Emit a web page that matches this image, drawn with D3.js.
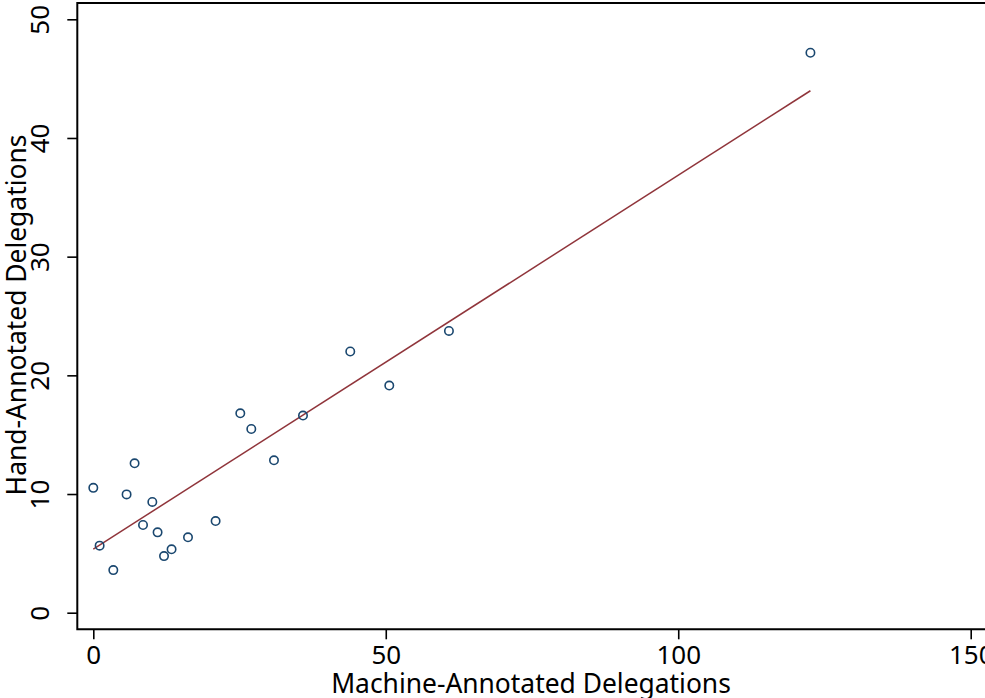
<!DOCTYPE html>
<html lang="en">
<head>
<meta charset="utf-8">
<title>Hand vs Machine Delegations</title>
<script src="https://cdn.jsdelivr.net/npm/d3@7"></script>
<style>
  html, body { margin: 0; padding: 0; background: #fff; }
  svg text { font-family: "Noto Sans", "Open Sans", sans-serif; fill: #000; }
</style>
</head>
<body>
<script>
// values
var machine = [0, 1.08, 3.42, 5.69, 7.06, 8.5, 10.09, 10.99, 12.09, 13.38,
               16.19, 20.91, 25.13, 27.01, 30.89, 35.85, 43.93, 50.6, 60.8, 122.6];
var hand = [10.52, 5.65, 3.59, 9.97, 12.59, 7.39, 9.33, 6.77, 4.77, 5.34,
            6.35, 7.72, 16.8, 15.48, 12.84, 16.61, 22.01, 19.14, 23.74, 47.18];
// fitted line ends (machine, hand)
var fitX = [0, 122.6];
var fitY = [5.36, 43.98];
var xTicks = [0, 50, 100, 150];
var yTicks = [0, 10, 20, 30, 40, 50];

var width = 985, height = 698;

var svg = d3.select("body").append("svg")
    .attr("width", width)
    .attr("height", height);

var x = d3.scaleLinear().domain([0, 150]).range([93.3, 970.7]);
var y = d3.scaleLinear().domain([0, 50]).range([612.7, 19.3]);

var frameLeft = 77.3, frameTop = 3, frameBottom = 629.3;

// plot region frame (right side runs off the picture)
svg.append("path")
    .attr("d", "M" + (width + 20) + "," + frameTop + "H" + frameLeft + "V" + frameBottom + "H" + (width + 20))
    .attr("fill", "none")
    .attr("stroke", "#000")
    .attr("stroke-width", 2);

// y axis
var yAxis = svg.append("g")
    .attr("transform", "translate(" + frameLeft + ",0)")
    .call(d3.axisLeft(y).tickValues(yTicks).tickSize(10).tickSizeOuter(0).tickPadding(0));
yAxis.select(".domain").remove();
yAxis.selectAll(".tick line").attr("stroke", "#000").attr("stroke-width", 1.6);
yAxis.selectAll(".tick text")
    .attr("x", null).attr("dy", null)
    .attr("text-anchor", "middle")
    .attr("font-size", 26)
    .attr("transform", "translate(-35,0) rotate(-90)")
    .attr("y", 0)
    .attr("dominant-baseline", "middle");

// x axis
var xAxis = svg.append("g")
    .attr("transform", "translate(0," + frameBottom + ")")
    .call(d3.axisBottom(x).tickValues(xTicks).tickSize(10).tickSizeOuter(0).tickPadding(6));
xAxis.select(".domain").remove();
xAxis.selectAll(".tick line").attr("stroke", "#000").attr("stroke-width", 1.6);
xAxis.selectAll(".tick text")
    .attr("font-size", 26)
    .attr("dy", "0.71em");

// axis titles
svg.append("text")
    .attr("x", 531)
    .attr("y", 693)
    .attr("text-anchor", "middle")
    .attr("font-size", 26.4)
    .text("Machine-Annotated Delegations");

svg.append("text")
    .attr("transform", "translate(26,315) rotate(-90)")
    .attr("text-anchor", "middle")
    .attr("font-size", 26.4)
    .text("Hand-Annotated Delegations");

// fitted line
svg.append("line")
    .attr("x1", x(fitX[0])).attr("y1", y(fitY[0]))
    .attr("x2", x(fitX[1])).attr("y2", y(fitY[1]))
    .attr("stroke", "#90353b")
    .attr("stroke-width", 1.5);

svg.selectAll("circle")
    .data(machine)
    .enter().append("circle")
    .attr("cx", function(d) { return x(d); })
    .attr("cy", function(d, i) { return y(hand[i]); })
    .attr("r", 4.2)
    .attr("fill", "none")
    .attr("stroke", "#1a476f")
    .attr("stroke-width", 1.6);
</script>
</body>
</html>
